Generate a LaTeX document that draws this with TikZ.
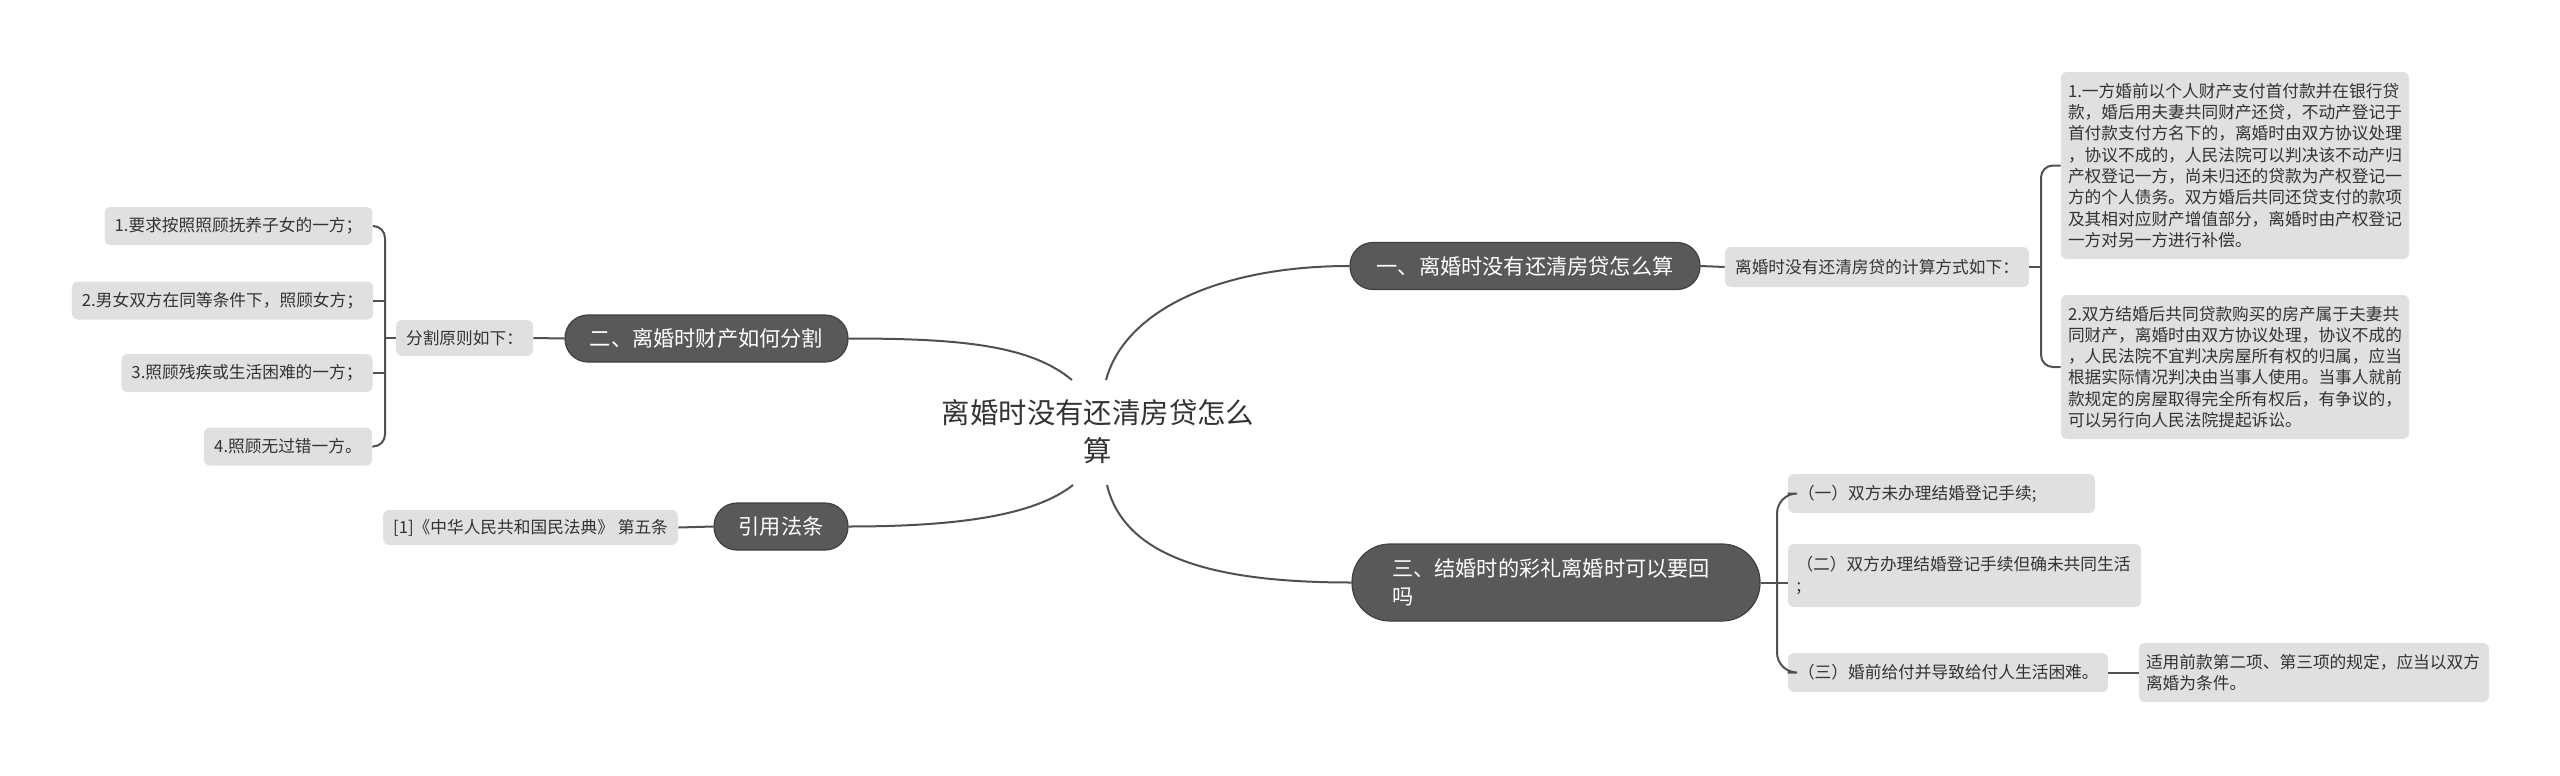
\documentclass[tikz,border=0pt]{standalone}
\usepackage{fontspec}
\setmainfont{Noto Sans CJK SC}
\usepackage{tikz}
\definecolor{pillColor}{HTML}{595959}
\definecolor{pillEdge}{HTML}{404040}
\definecolor{noteColor}{HTML}{E0E0E0}
\definecolor{lineColor}{HTML}{505050}
\definecolor{textColor}{HTML}{333333}

\begin{document}
\begin{tikzpicture}[x=0.5pt, y=-0.5pt,
    pill/.style={draw=pillEdge, line width=0.6pt, fill=pillColor, text=white, rounded corners=11.5pt,
        font=\fontsize{10.6}{14}\selectfont, inner sep=0pt, minimum height=23.5pt, align=center},
    note/.style={fill=noteColor, text=textColor, rounded corners=3pt,
        font=\fontsize{8.35}{10.65}\selectfont, inner xsep=5pt, inner ysep=0pt, minimum height=19pt, align=center},
    link/.style={draw=lineColor, line width=1pt}]
    \useasboundingbox (0,0) rectangle (2560,776);

    \node[text=textColor, font=\fontsize{14.2}{19}\selectfont, align=center] (root) at (1098,432) {离婚时没有还清房贷怎么\\算};
    \coordinate (rootNW) at (1072,380);
    \coordinate (rootNE) at (1106,380);
    \coordinate (rootSW) at (1073,485);
    \coordinate (rootSE) at (1107,485);

    \node[pill, minimum width=175pt] (topicA) at (1525,266) {一、离婚时没有还清房贷怎么算};
    \node[pill, minimum width=141.5pt] (topicB) at (706.5,338.5) {二、离婚时财产如何分割};
    \node[pill, minimum height=38.5pt, rounded corners=19pt, align=left, text width=164pt, inner xsep=20pt]
        (topicC) at (1556,582.5) {三、结婚时的彩礼离婚时可以要回\\吗};
    \node[pill, minimum width=67pt] (topicD) at (781,526.5) {引用法条};

    \node[note, minimum width=148pt, minimum height=20pt] (calcNote) at (1877,267) {离婚时没有还清房贷的计算方式如下：};
    \node[note, align=left, text width=167pt, inner xsep=3.5pt, minimum height=93.5pt] (calcA) at (2235,165.5)
        {1.一方婚前以个人财产支付首付款并在银行贷\\款，婚后用夫妻共同财产还贷，不动产登记于\\首付款支付方名下的，离婚时由双方协议处理\\，协议不成的，人民法院可以判决该不动产归\\产权登记一方，尚未归还的贷款为产权登记一\\方的个人债务。双方婚后共同还贷支付的款项\\及其相对应财产增值部分，离婚时由产权登记\\一方对另一方进行补偿。};
    \node[note, align=left, text width=167pt, inner xsep=3.5pt, minimum height=72pt] (calcB) at (2235,367)
        {2.双方结婚后共同贷款购买的房产属于夫妻共\\同财产，离婚时由双方协议处理，协议不成的\\，人民法院不宜判决房屋所有权的归属，应当\\根据实际情况判决由当事人使用。当事人就前\\款规定的房屋取得完全所有权后，有争议的，\\可以另行向人民法院提起诉讼。};

    \node[note, minimum width=67.5pt, minimum height=18pt] (splitNote) at (464.5,338) {分割原则如下：};
    \node[note, minimum width=133.5pt] (splitA) at (238.5,226) {1.要求按照照顾抚养子女的一方；};
    \node[note, minimum width=149.5pt] (splitB) at (222.5,300.5) {2.男女双方在同等条件下，照顾女方；};
    \node[note, minimum width=125pt] (splitC) at (247,373) {3.照顾残疾或生活困难的一方；};
    \node[note, minimum width=84pt] (splitD) at (288,446.5) {4.照顾无过错一方。};

    \node[note, minimum width=145.5pt, minimum height=17.5pt] (lawRef) at (530.5,527.5) {[1]《中华人民共和国民法典》 第五条};

    \node[note, align=left, text width=143.5pt, minimum height=19.5pt] (giftA) at (1941.5,493.5) {（一）双方未办理结婚登记手续;};
    \node[note, align=left, text width=168pt, inner xsep=4.25pt, minimum height=31.5pt] (giftB) at (1964.5,575.5) {（二）双方办理结婚登记手续但确未共同生活\\;};
    \node[note, align=left, text width=150pt, minimum height=19.5pt] (giftC) at (1948,672.5) {（三）婚前给付并导致给付人生活困难。};
    \node[note, align=left, text width=168pt, inner xsep=3.5pt, minimum height=29.5pt] (giftCNote) at (2314,672.5) {适用前款第二项、第三项的规定，应当以双方\\离婚为条件。};

    \draw[link] (rootNE) .. controls (1125,310) and (1220,266) .. (topicA.west);
    \draw[link] (rootNW) .. controls (1030,345) and (960,338.5) .. (topicB.east);
    \draw[link] (rootSW) .. controls (1035,515) and (960,526.5) .. (topicD.east);
    \draw[link] (rootSE) .. controls (1125,560) and (1220,582.5) .. (topicC.west);

    \coordinate (calcFork) at (2041,267);
    \draw[link] (topicA.east) -- (calcNote.west);
    \draw[link] (calcNote.east) -- (calcFork);
    \draw[link, rounded corners=6pt] (calcA.west) -| (calcFork) |- (calcB.west);

    \coordinate (splitFork) at (385,338);
    \draw[link] (topicB.west) -- (splitNote.east);
    \draw[link] (splitNote.west) -- (splitFork);
    \draw[link, rounded corners=6pt] (splitA.east) -| (splitFork) |- (splitD.east);
    \draw[link] (splitB.east) -- (splitB.east -| splitFork);
    \draw[link] (splitC.east) -- (splitC.east -| splitFork);

    \draw[link] (topicD.west) -- (lawRef.east);

    \coordinate (giftFork) at (1777,582.5);
    \draw[link] (topicC.east) -- (giftFork) -- (giftFork -| giftB.west);
    \draw[link, rounded corners=10pt] (giftA.west) -| (giftFork) |- (giftC.west);
    \draw[link] (giftC.east) -- (giftCNote.west);
\end{tikzpicture}
\end{document}
